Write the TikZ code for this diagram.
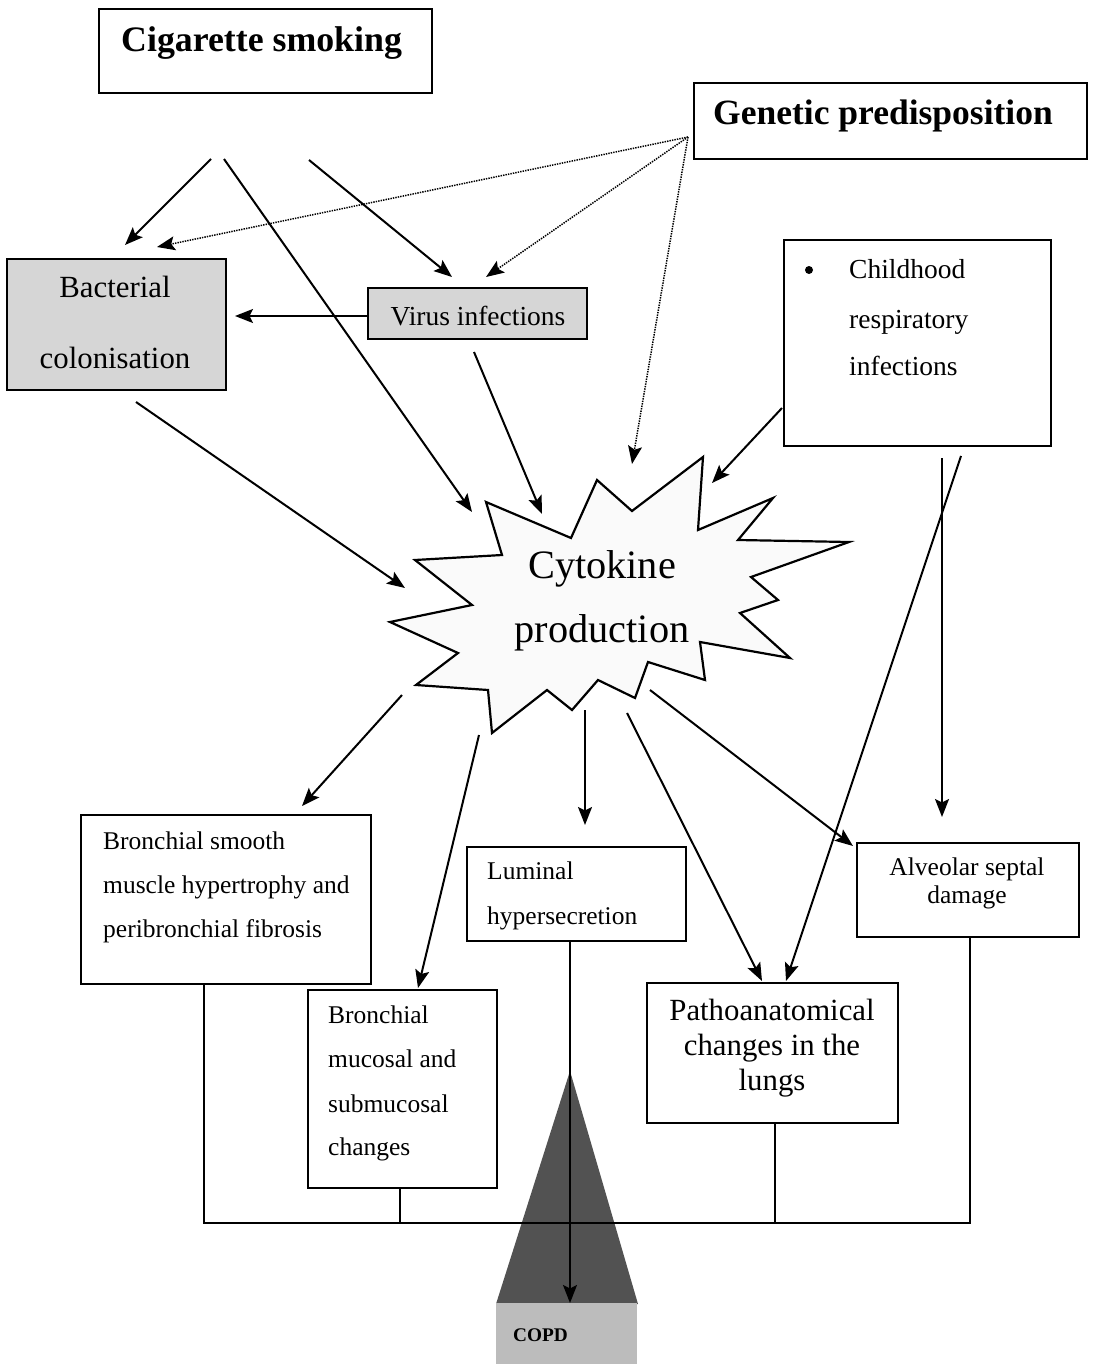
\documentclass[tikz,border=0pt]{standalone}
\usepackage{fontspec}
\setmainfont{Liberation Serif}
\usetikzlibrary{arrows.meta}
\definecolor{boxgray}{RGB}{214,214,214}
\definecolor{copddark}{RGB}{82,82,82}
\definecolor{copdlight}{RGB}{188,188,188}
\tikzset{
  tip/.style={-{Stealth[length=18pt, width=14pt, inset=3.5pt]}},
  box/.style={draw, line width=2.2pt, rectangle, inner sep=0pt},
  arr/.style={line width=2pt, tip},
  dotarr/.style={line width=1.5pt, dash pattern=on 1.4pt off 1.1pt, tip},
  bus/.style={line width=1.7pt},
  txt/.style={inner sep=0pt, anchor=base west},
  ctxt/.style={inner sep=0pt, anchor=base},
  fbig/.style={font=\fontsize{35.8}{40}\selectfont\bfseries},
  fgen/.style={font=\fontsize{35.5}{40}\selectfont\bfseries},
  fmed/.style={font=\fontsize{30.8}{36}\selectfont},
  fvir/.style={font=\fontsize{27.5}{32}\selectfont},
  fsm/.style={font=\fontsize{25.5}{30}\selectfont},
  fcyt/.style={font=\fontsize{40.3}{46}\selectfont},
}
\begin{document}
\begin{tikzpicture}[x=1pt, y=-1pt]
\useasboundingbox (0,0) rectangle (1093,1364);
\fill[white] (0,0) rectangle (1093,1364);

% ---------- boxes ----------
\node[box, minimum width=333pt, minimum height=84pt] (cig) at (265.5,51) {};
\node[box, minimum width=393pt, minimum height=76pt] (gen) at (890.5,121) {};
\node[box, fill=boxgray, minimum width=219pt, minimum height=131pt] (bact) at (116.5,324.5) {};
\node[box, fill=boxgray, minimum width=219pt, minimum height=51pt] (vir) at (477.5,313.5) {};
\node[box, minimum width=267pt, minimum height=206pt] (child) at (917.5,343) {};
\node[box, minimum width=290pt, minimum height=169pt] (bsm) at (226,899.5) {};
\node[box, minimum width=219pt, minimum height=94pt] (lum) at (576.5,894) {};
\node[box, minimum width=222pt, minimum height=94pt] (alv) at (968,890) {};
\node[box, minimum width=189pt, minimum height=198pt] (muc) at (402.5,1089) {};
\node[box, minimum width=251pt, minimum height=140pt] (pat) at (772.5,1053) {};

% ---------- star ----------
\draw[line width=2.2pt, fill=gray!4, line join=miter] (486,502) -- (571,538) -- (597,480) -- (632,511) -- (703,457) -- (698,530)
  -- (773,498) -- (738,540) -- (849,542) -- (751,577) -- (778,600) -- (740,613) -- (790,658)
  -- (700,642) -- (705,680) -- (648,662) -- (635,698) -- (598,680) -- (572,710) -- (547,690)
  -- (492,733) -- (488,690) -- (416,685) -- (458,653) -- (390,622) -- (472,605) -- (415,560)
  -- (502,555) -- cycle;

% ---------- texts ----------
\node[txt, fbig] (tcig) at (121,52) {Cigarette smoking};
\node[txt, fgen] (tgen) at (713,125) {Genetic predisposition};
\node[ctxt, fmed] (tb1) at (115,297) {Bacterial};
\node[ctxt, fmed] (tb2) at (115,368) {colonisation};
\node[ctxt, fvir] (tv) at (478,325) {Virus infections};
\node[circle, fill=black, inner sep=0pt, minimum size=8pt] (bul) at (809,270) {};
\node[txt, fvir] (tc1) at (849,278) {Childhood};
\node[txt, fvir] (tc2) at (849,328) {respiratory};
\node[txt, fvir] (tc3) at (849,375) {infections};
\node[ctxt, fcyt] (ty1) at (602,578) {Cytokine};
\node[ctxt, fcyt] (ty2) at (602,642) {production};
\node[txt, fsm] (ts1) at (103,849) {Bronchial smooth};
\node[txt, fsm] (ts2) at (103,893) {muscle hypertrophy and};
\node[txt, fsm] (ts3) at (103,937) {peribronchial fibrosis};
\node[txt, fsm] (tl1) at (487,879) {Luminal};
\node[txt, fsm] (tl2) at (487,924) {hypersecretion};
\node[ctxt, fsm] (ta1) at (967,875) {Alveolar septal};
\node[ctxt, fsm] (ta2) at (967,903) {damage};
\node[txt, fsm] (tm1) at (328,1023) {Bronchial};
\node[txt, fsm] (tm2) at (328,1067) {mucosal and};
\node[txt, fsm] (tm3) at (328,1112) {submucosal};
\node[txt, fsm] (tm4) at (328,1155) {changes};
\node[ctxt, fmed] (tp1) at (772,1020) {Pathoanatomical};
\node[ctxt, fmed] (tp2) at (772,1055) {changes in the};
\node[ctxt, fmed] (tp3) at (772,1090) {lungs};

% ---------- COPD ----------
\fill[copddark] (570,1071) -- (638,1304) -- (496,1304) -- cycle;
\fill[copdlight] (496,1303) rectangle (637,1364);
\node[txt, font=\fontsize{19.3}{22}\selectfont\bfseries] (tcopd) at (513,1341) {COPD};
\coordinate (copdtip) at (570,1303);

% ---------- connector end points ----------
\coordinate (cigA) at (211,159);
\coordinate (cigB) at (224,159);
\coordinate (cigC) at (309,160);
\coordinate (genA) at (688,137);
\coordinate (bactT1) at (125,245);
\coordinate (bactT2) at (157,247);
\coordinate (virT1) at (452,277);
\coordinate (virT2) at (486,277);
\coordinate (bactR) at (235,316);
\coordinate (bactB) at (136,402);
\coordinate (virB) at (474,352);
\coordinate (childL) at (782,408);
\coordinate (childB1) at (942,458);
\coordinate (childB2) at (961,456);
\coordinate (cyIn1) at (472,512);
\coordinate (cyIn2) at (542,514);
\coordinate (cyIn3) at (632,464);
\coordinate (cyIn4) at (712,483);
\coordinate (cyIn5) at (405,588);
\coordinate (cyO1) at (402,695);
\coordinate (cyO2) at (479,735);
\coordinate (cyO3) at (585,710);
\coordinate (cyO4) at (627,713);
\coordinate (cyO5) at (650,690);
\coordinate (bsmT) at (302,806);
\coordinate (mucT) at (418,988);
\coordinate (lumT) at (585,825);
\coordinate (patT1) at (762,981);
\coordinate (patT2) at (786,981);
\coordinate (alvT) at (853,846);
\coordinate (alvT2) at (942,817);

% ---------- arrows ----------
\draw[arr] (cigA) -- (bactT1);
\draw[arr] (cigB) -- (cyIn1);
\draw[arr] (cigC) -- (virT1);
\draw[dotarr] (genA) -- (bactT2);
\draw[dotarr] (genA) -- (virT2);
\draw[dotarr] (genA) -- (cyIn3);
\draw[arr] (vir.west |- bactR) -- (bactR);
\draw[arr] (virB) -- (cyIn2);
\draw[arr] (bactB) -- (cyIn5);
\draw[arr] (childL) -- (cyIn4);
\draw[arr] (childB1) -- (alvT2);
\draw[arr] (childB2) -- (patT2);
\draw[arr] (cyO1) -- (bsmT);
\draw[arr] (cyO2) -- (mucT);
\draw[arr] (cyO3) -- (lumT);
\draw[arr] (cyO4) -- (patT1);
\draw[arr] (cyO5) -- (alvT);

% ---------- bus to COPD ----------
\draw[bus] (bsm.south -| 204,0) -- (204,1223) -- (970,1223) -- (alv.south -| 970,0);
\draw[bus] (muc.south -| 400,0) -- (400,1223);
\draw[bus] (pat.south -| 775,0) -- (775,1223);
\draw[line width=1.6pt, tip] (lum.south -| 570,0) -- (copdtip);
\end{tikzpicture}
\end{document}
